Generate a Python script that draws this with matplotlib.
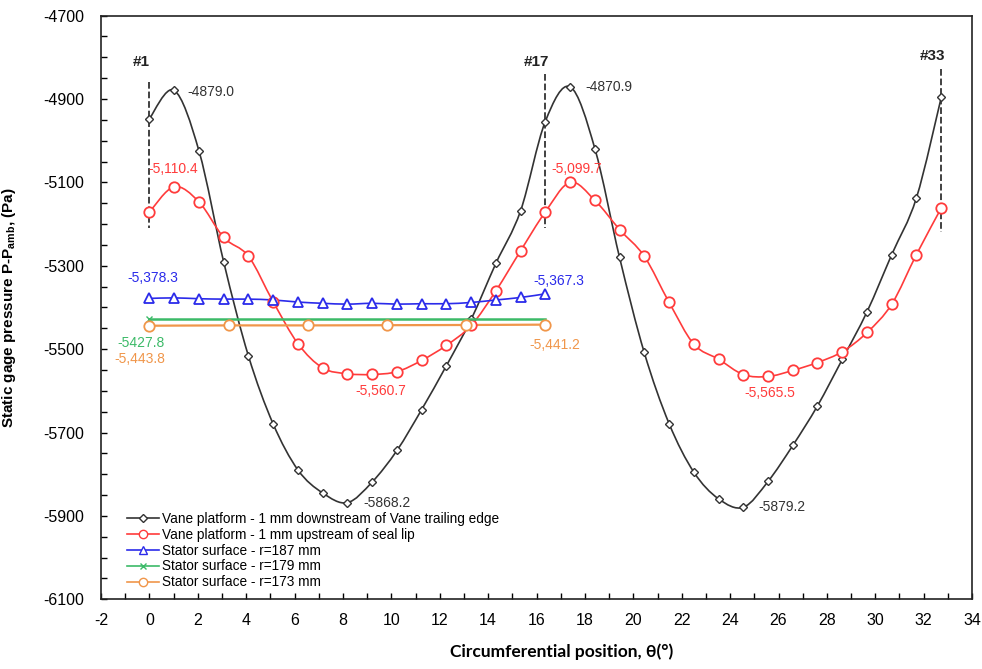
import numpy as np
import matplotlib
matplotlib.use('Agg')
import matplotlib.pyplot as plt
from matplotlib.path import Path
from matplotlib.patches import PathPatch
from matplotlib.lines import Line2D
from matplotlib.ticker import MultipleLocator

plt.rcParams['font.family'] = ['Liberation Sans', 'DejaVu Sans']
plt.rcParams['axes.unicode_minus'] = False
plt.rcParams['mathtext.fontset'] = 'custom'
plt.rcParams['mathtext.rm'] = 'Liberation Sans'
plt.rcParams['mathtext.bf'] = 'Liberation Sans:bold'

# circumferential positions of the 33 taps (deg)
theta = [0.00, 1.02, 2.05, 3.07, 4.09, 5.11, 6.14, 7.16, 8.18, 9.20, 10.23,
         11.25, 12.27, 13.30, 14.32, 15.34, 16.36, 17.39, 18.41, 19.43, 20.45,
         21.48, 22.50, 23.52, 24.55, 25.57, 26.59, 27.61, 28.64, 29.66, 30.68,
         31.70, 32.73]
vane_te = [-4947, -4879.0, -5025, -5291, -5516, -5679, -5790, -5845, -5868.2,
           -5819, -5743, -5645, -5540, -5428, -5294, -5168, -4954, -4870.9,
           -5019, -5280, -5508, -5679, -5795, -5859, -5879.2, -5817, -5731,
           -5636, -5524, -5410, -5273, -5137, -4895]
seal_lip = [-5171, -5110.4, -5147, -5232, -5277, -5386, -5487, -5545, -5559,
            -5560.7, -5554, -5527, -5491, -5443, -5360, -5264, -5171, -5099.7,
            -5143, -5213, -5277, -5388, -5488, -5524, -5561, -5565.5, -5551,
            -5532, -5506, -5460, -5392, -5273, -5161]
theta_187 = theta[:17]
stator_187 = [-5378.3, -5377, -5379, -5380, -5380, -5382, -5387, -5390, -5392,
              -5390, -5392, -5391, -5391, -5388, -5382, -5376, -5367.3]
theta_179 = [0.00, 16.36]
stator_179 = [-5427.8, -5427.8]
theta_173 = [0.00, 3.27, 6.55, 9.82, 13.09, 16.36]
stator_173 = [-5443.8, -5443.0, -5443.0, -5442.5, -5442.0, -5441.2]

y_ticks = [-6100, -5900, -5700, -5500, -5300, -5100, -4900, -4700]

labels = ['Vane platform - 1 mm downstream of Vane trailing edge',
          'Vane platform - 1 mm upstream of seal lip',
          'Stator surface - r=187 mm',
          'Stator surface - r=179 mm',
          'Stator surface - r=173 mm']

c_blk = '#333333'
c_red = '#ff3b3b'
c_blu = '#2b2bea'
c_grn = '#3cba68'
c_org = '#f0964a'


def smooth(ax, x, y, color, lw=1.2):
    # excel-like smoothed line, bezier segments through the data points
    x = np.asarray(x, float)
    y = np.asarray(y, float)
    p = np.column_stack([x, y])
    n = len(p)
    verts = [p[0]]
    codes = [Path.MOVETO]
    for i in range(n - 1):
        p0 = p[i - 1] if i > 0 else p[i]
        p3 = p[i + 2] if i + 2 < n else p[i + 1]
        c1 = p[i] + (p[i + 1] - p0) / 6
        c2 = p[i + 1] - (p3 - p[i]) / 6
        verts += [c1, c2, p[i + 1]]
        codes += [Path.CURVE4] * 3
    ax.add_patch(PathPatch(Path(verts, codes), fill=False, edgecolor=color,
                           lw=lw, zorder=2))


fig = plt.figure(figsize=(9.82, 6.69), dpi=100)
ax = fig.add_axes([0.1029, 0.1042, 0.887, 0.8724])

smooth(ax, theta, vane_te, c_blk)
ax.plot(theta, vane_te, ls='none', marker='D', ms=4.5, mfc='white',
        mec=c_blk, mew=1.0, zorder=3)
smooth(ax, theta, seal_lip, c_red)
ax.plot(theta, seal_lip, ls='none', marker='o', ms=7.5, mfc='white',
        mec=c_red, mew=1.3, zorder=3)
smooth(ax, theta_187, stator_187, c_blu)
ax.plot(theta_187, stator_187, ls='none', marker='^', ms=7, mfc='white',
        mec=c_blu, mew=1.3, zorder=3)
ax.plot(theta_179, stator_179, color=c_grn, lw=1.8, marker='x', ms=5,
        markevery=[0], zorder=3)
smooth(ax, theta_173, stator_173, c_org, lw=1.6)
ax.plot(theta_173, stator_173, ls='none', marker='o', ms=7.5, mfc='white',
        mec=c_org, mew=1.3, zorder=3)

# blade passage markers
for xv, ytop, ybot, lab, ylab in [(0.0, -4860, -5210, '#1', -4812),
                                  (16.36, -4840, -5210, '#17', -4812),
                                  (32.73, -4828, -5218, '#33', -4796)]:
    ax.plot([xv, xv], [ytop, ybot], color=c_blk, ls='--', lw=1.3, zorder=1)
    ax.text(xv - 0.35, ylab, lab, ha='center', va='center', fontsize=11,
            fontweight='bold', color='#222222')

notes = [(1.57, -4882, '-4879.0', c_blk), (-0.04, -5068, '-5,110.4', c_red),
         (-0.91, -5329, '-5,378.3', c_blu), (-1.33, -5485, '-5427.8', c_grn),
         (-1.45, -5523, '-5,443.8', c_org), (8.53, -5600, '-5,560.7', c_red),
         (8.86, -5870, '-5868.2', c_blk), (18.01, -4872, '-4870.9', c_blk),
         (16.6, -5068, '-5,099.7', c_red), (15.85, -5336, '-5,367.3', c_blu),
         (15.7, -5490, '-5,441.2', c_org), (24.57, -5605, '-5,565.5', c_red),
         (25.16, -5879, '-5879.2', c_blk)]
for xv, yv, s, c in notes:
    ax.text(xv, yv, s, ha='left', va='center', fontsize=10, color=c)

handles = [
    Line2D([], [], color=c_blk, lw=1.2, marker='D', ms=4, mfc='white', mec=c_blk),
    Line2D([], [], color=c_red, lw=1.2, marker='o', ms=6, mfc='white', mec=c_red),
    Line2D([], [], color=c_blu, lw=1.2, marker='^', ms=6, mfc='white', mec=c_blu),
    Line2D([], [], color=c_grn, lw=1.2, marker='x', ms=5, mec=c_grn),
    Line2D([], [], color=c_org, lw=1.2, marker='o', ms=6, mfc='white', mec=c_org),
]
ax.legend(handles, labels, loc='lower left', bbox_to_anchor=(0.02, 0.003),
          frameon=False, fontsize=9.8, labelspacing=0.14, handlelength=2.4,
          handletextpad=0.2, borderaxespad=0.2)

ax.set_xlim(-2, 34)
ax.set_ylim(-6100, -4700)
ax.xaxis.set_major_locator(MultipleLocator(2))
ax.xaxis.set_minor_locator(MultipleLocator(1))
ax.set_yticks(y_ticks)
ax.yaxis.set_minor_locator(MultipleLocator(50))
ax.tick_params(which='both', direction='in', length=4, width=1.0,
               labelsize=11.5)
ax.tick_params(axis='y', pad=12)
ax.tick_params(axis='x', pad=10)
for sp in ax.spines.values():
    sp.set_linewidth(1.2)
    sp.set_color('#222222')

ax.set_ylabel('Static gage pressure P-P$_{\\mathbf{amb}}$, (Pa)', fontsize=11,
              fontweight='bold')
ax.yaxis.set_label_coords(-0.095, 0.5)
ax.set_xlabel('Circumferential position, θ(°)', fontsize=12.5,
              fontweight='bold', family=['Lato', 'DejaVu Sans'])
ax.xaxis.set_label_coords(0.529, -0.076)

fig.savefig('out.png', dpi=100)
